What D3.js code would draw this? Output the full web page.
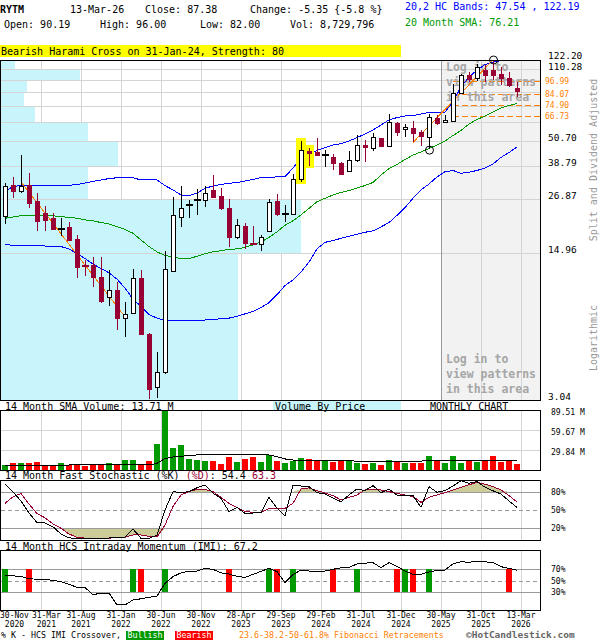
<!DOCTYPE html>
<html><head><meta charset="utf-8">
<script src="https://cdn.jsdelivr.net/npm/d3@7"></script>
<style>
body{margin:0;background:#fff;}
svg{display:block;}
text{font-family:"DejaVu Sans Mono","Liberation Mono",monospace;}
</style></head><body>
<svg id="chart" width="600" height="640"></svg>
<script>
// ---------------- DATA ----------------
const months=["Nov-20","Dec-20",
"Jan-21","Feb-21","Mar-21","Apr-21","May-21","Jun-21","Jul-21","Aug-21","Sep-21","Oct-21","Nov-21","Dec-21",
"Jan-22","Feb-22","Mar-22","Apr-22","May-22","Jun-22","Jul-22","Aug-22","Sep-22","Oct-22","Nov-22","Dec-22",
"Jan-23","Feb-23","Mar-23","Apr-23","May-23","Jun-23","Jul-23","Aug-23","Sep-23","Oct-23","Nov-23","Dec-23",
"Jan-24","Feb-24","Mar-24","Apr-24","May-24","Jun-24","Jul-24","Aug-24","Sep-24","Oct-24","Nov-24","Dec-24",
"Jan-25","Feb-25","Mar-25","Apr-25","May-25","Jun-25","Jul-25","Aug-25","Sep-25","Oct-25","Nov-25","Dec-25",
"Jan-26","Feb-26","Mar-26"];
const openP=[22.4,31.4,29.6,31.4,26.5,23.1,21.9,19.4,19.9,17.5,
13.2,13.2,11.6,9.3,10.0,7.4,7.8,11.5,6.2,3.5,
4.1,12.4,22.2,25.1,26.5,26.8,29.8,27.8,24.6,17.9,
20.2,16.7,16.6,19.0,26.4,22.9,23.0,33.7,45.5,44.9,
43.5,42.5,39.9,36.6,41.2,48.4,46.9,52.1,48.0,61.9,
57.5,58.4,55.8,53.0,65.3,62.1,63.3,85.3,103.8,100,
110,109.6,105,101,90.19];
const highP=[32.2,34.2,43.5,35.9,28.9,25.1,23.1,21.9,21.0,18.2,
13.9,14.3,14.3,12.5,11.0,8.8,12.6,12.5,6.3,5.1,
15.4,27.5,31.1,26.8,30.2,31.1,35.0,30.3,27.0,21.7,
20.7,20.1,18.3,27.0,28.5,25.2,35.3,50.7,46.8,52.4,
46.0,44.0,40.3,45.6,53.9,51.2,55.4,52.5,68.3,62.3,
61.1,62.7,57.1,68.3,67.2,67.2,93.8,104.5,107,116.6,
116,122.2,113.8,107,96];
const lowP=[20.5,27.2,28.7,24.6,19.1,19.1,19.3,18.0,17.2,11.5,
11.7,10.4,8.7,8.4,6.5,6.0,7.7,6.2,3.06,3.1,
4.05,12.2,20.0,21.9,22.6,24.8,27.3,23.9,16.0,17.4,
15.7,16.3,15.4,19.0,22.5,21.1,23.0,32.3,38.7,43.0,
38.1,37.0,35.0,36.2,40.5,40.5,45.4,47.6,48.0,53.5,
52.9,49.9,47.9,46.5,60.3,61.8,62.9,84.2,95.7,96.8,
96,98.3,93.1,91,82];
const closeP=[31.0,29.6,31.0,25.9,21.3,21.5,19.5,19.6,17.3,12.9,
13.0,11.6,8.9,10.0,7.4,7.7,11.5,6.2,3.44,4.1,
12.6,22.6,24.6,25.3,26.8,28.9,27.6,24.6,17.8,20.3,
16.7,16.4,17.8,26.0,22.9,23.1,33.5,46.1,44.3,43.5,
43.6,39.9,35.6,41.2,48.5,47.4,52.7,48.0,62.0,56.1,
59.3,55.4,53.7,65.5,61.8,63.5,85.3,103.8,99.8,113.8,
104,104,100,92.73,87.38];
const volume=[7.5,10.4,10.4,10.4,11.9,7.5,7.5,10.4,8.0,8.0,
6.0,8.0,8.0,10.4,8.0,14.9,14.9,8.0,13.4,38.8,
89.51,32.8,37.3,16.4,14.9,13.4,13.4,9.0,19.4,11.9,
16.4,19.4,11.9,22.4,13.4,10.4,14.0,17.9,16.4,14.9,
14.9,11.9,14.9,14.9,10.4,9.0,10.4,7.5,14.9,13.4,
10.4,10.4,10.4,20.9,13.4,10.4,20.9,10.4,14.9,11.9,
14.9,20.9,11.9,13.4,8.73];
const volumeSMA=[6.5,6.5,6.5,6.5,6.5,6.5,6.5,6.5,7.5,7.5,
7.5,7.5,7.5,7.5,7.5,7.5,7.5,7.5,7.5,10,
17,19.5,20.5,21.5,22.5,22.5,22.5,22.5,22.5,22.5,
22.5,22.5,22.5,22.5,20,16.5,14.9,14.4,14.4,14.4,
14.4,14.4,14.4,14.4,12.9,12.9,12.9,13.4,13.4,13.4,
13.4,13.4,13.4,13.7,13.7,13.7,13.7,13.7,13.7,13.7,
13.7,13.7,13.7,13.7,13.71];
const upperBand=[29.3,30.9,31.3,31.3,31.3,31.3,31.3,31.3,31.3,31.6,
32.1,32.7,33.2,33.7,34.0,34.0,34.0,33.2,33.2,33.2,
31.2,29.8,28.2,28.0,28.8,30.3,31.1,31.6,32.0,32.3,
32.8,33.4,34.1,34.2,34.3,34.4,37.8,42.1,44.0,45.7,
47.2,48.5,49.3,50.7,52.6,54.7,57.1,60.3,63.7,65.4,
66.5,66.9,67.9,69.1,68.7,69.2,77.7,91.2,101.6,109.6,
116.3,119.6,121.3,121.5,122.19];
const sma20=[21.9,22.2,22.5,22.6,22.65,22.6,22.5,22.3,22.1,21.9,
21.5,21.3,20.9,20.6,20.0,19.4,18.6,17.3,16.1,15.2,
14.6,14.4,14.1,14.1,14.5,14.9,15.2,15.4,15.6,15.7,
15.95,16.4,16.9,17.8,18.9,20.3,21.3,22.7,24.4,26.2,
27.2,28.2,29.0,29.6,30.4,31.25,32.3,35.0,37.6,39.3,
41.45,43.5,45.0,46.7,48.5,50.7,53.8,56.8,61.0,64.0,
66.5,69.5,72.6,74.6,76.21];
const lowerBand=[16.5,16.3,16.2,16.2,16.2,16.2,16.15,16.1,15.7,14.9,
14.15,13.3,12.7,12.1,11.3,10.25,9.1,8.4,7.7,7.4,
7.2,7.2,7.2,7.2,7.2,7.25,7.3,7.35,7.4,7.55,
7.75,7.95,8.3,8.75,9.55,10.55,11.2,12.2,13.6,15.7,
16.85,17.2,17.6,18.0,18.4,18.8,19.1,19.95,20.9,22.6,
24.6,27.2,29.8,31.75,34.3,36.3,36.8,35.7,36.1,36.8,
37.8,39.5,42.4,44.7,47.54];
const stochK=[93.4,80,65,45,28.9,28.5,22,10,3.5,2.8,
2.8,2.8,2.8,3.3,4.0,5.0,18.4,2.8,2.8,8,
50,80.6,79,80.6,87,91.7,78,69.5,47.2,54.5,
44.5,45,45.6,71.2,52.8,40.6,91.7,90,88.9,79,
76.7,70,63.9,75,85,82.3,90.6,79,84.5,75,
74.5,73.9,54.5,88.9,79.5,82.3,90,98.9,94.5,97.3,
88,82,76.7,65,54.4];
const stochD=[61.1,72,77.5,60,44,37,27,19.5,10,4.5,
3.2,2.8,2.8,3.2,3.8,4.5,8.4,8.4,6,5,
25,56,75,80.6,84,84.5,80.6,71,61.1,54,
47.2,46.4,45.6,52.8,52.8,52.8,61.1,85,87,82.3,
78.5,74,66.7,71,75,83.4,84.5,83.4,80.5,77.8,
75,72.3,62.8,71.2,75,79,83.5,87.8,92,96.1,
93,89,83.4,74,63.3];
const imi=[58.2,57.8,57,52.7,52.4,52.1,50,48.2,43.6,38.5,
38,26,28.5,28.8,8.5,8.5,17,19,21.5,23.7,
45.2,56.5,63,66.1,66.1,70.6,68.9,63,61,57,
55.3,60.4,65.5,70.6,65,46.4,60,67.8,66,65.5,
66.1,69,71.5,72.3,78,79.5,80.2,71.8,80.2,74,
66,60.5,60.5,64.5,67,67.8,78,81.9,80.8,83,
81.5,80.8,73.4,70.6,67.2];
const bullishIdx=[0,16,20,33,36,44,50,53];
const bearishIdx=[3,17,28,34,41,49,51,63];
const priceLevels=[3.04,14.96,26.87,38.79,50.70,62.62,74.54,86.45,98.37,110.28,122.20];
const priceTickLabels=["122.20","110.28","50.70","38.79","26.87","14.96","3.04"];
const vbpShares=[474,600,174,234,174,68,46,52,158,28];
const fibLevels=[96.99,84.07,74.90,66.73];
const fibStartIdx=56;
const pivots=[{i:53,v:45.9},{i:61,v:122.2}];
const trendLines=[[[2,32.5],[15,7.5]],[[51,49.9],[61,122.2]]];
const patternIdx=[37,38];
const volumeTicks=[29.84,59.67,89.51];
const stochTicks=[20,50,80];
const imiTicks=[30,50,70];
const dateTickIdx=[0,4,9,14,19,24,29,34,39,44,49,54,59,64];
const dateTickLabels=[["30-Nov","2020"],["31-Mar","2021"],["31-Aug","2021"],["31-Jan","2022"],["30-Jun","2022"],["30-Nov","2022"],["28-Apr","2023"],["29-Sep","2023"],["29-Feb","2024"],["31-Jul","2024"],["31-Dec","2024"],["30-May","2025"],["31-Oct","2025"],["13-Mar","2026"]];
const lockedFromIdx=54;

// ---------------- SCALES ----------------
const svg=d3.select('#chart');
const N=months.length;
const x=d3.scaleBand().domain(d3.range(N)).range([1,1+8*N]);
const cx=i=>x(i)+x.bandwidth()/2;
const gx=i=>x(i)+x.step();
const PR=540;
const yP=d3.scaleLog().domain([priceLevels[0],priceLevels[priceLevels.length-1]]).range([400,60]);
const yV=d3.scaleLinear().domain([0,89.51]).range([470,410]);
const yS=d3.scaleLinear().domain([0,100]).range([540,480]);
const yI=d3.scaleLinear().domain([0,100]).range([610,551]);
const CRIM='#990033',GREEN='#009900',RED='#ff0000',BLUE='#0000ff',ORANGE='#ff8000',GRID='#d4d4d4',CYAN='#c8f5fc';
const r5=v=>Math.round(v)+0.5;

function T(g,xx,yy,s,o={}){
  const t=g.append('text').attr('x',xx).attr('y',yy).text(s)
   .attr('font-size',o.size||10).attr('fill',o.fill||'#000');
  if(o.weight)t.attr('font-weight',o.weight);
  if(o.anchor)t.attr('text-anchor',o.anchor);
  return t;
}
function hline(g,x1,x2,yy,col,w=1,dash=null){
  const l=g.append('line').attr('x1',x1).attr('x2',x2).attr('y1',r5(yy)).attr('y2',r5(yy)).attr('stroke',col).attr('stroke-width',w);
  if(dash)l.attr('stroke-dasharray',dash);return l;
}
function vline(g,xx,y1,y2,col,w=1){
  return g.append('line').attr('x1',r5(xx)).attr('x2',r5(xx)).attr('y1',y1).attr('y2',y2).attr('stroke',col).attr('stroke-width',w);
}

// ---------------- HEADER ----------------
const hd=svg.append('g');
T(hd,0,13,"RYTM",{weight:'bold'});
T(hd,70,13,"13-Mar-26");
T(hd,145,13,"Close: 87.38");
T(hd,250,13,"Change: -5.35 {-5.8 %}");
T(hd,4,28,"Open: 90.19");
T(hd,100,28,"High: 96.00");
T(hd,200,28,"Low: 82.00");
T(hd,290,28,"Vol: 8,729,796");
T(hd,405,10,"20,2 HC Bands: 47.54 , 122.19",{fill:BLUE});
T(hd,405,26,"20 Month SMA: 76.21",{fill:GREEN});
hd.append('rect').attr('x',0).attr('y',45).attr('width',401).attr('height',12).attr('fill','#ffff00');
T(hd,1,54.5,"Bearish Harami Cross on 31-Jan-24, Strength: 80");

// ---------------- MAIN PRICE PANEL ----------------
const main=svg.append('g').attr('shape-rendering','crispEdges');
const lockX=gx(lockedFromIdx);
main.append('rect').attr('x',lockX).attr('y',60).attr('width',PR-lockX).attr('height',340).attr('fill','#f2f2f2');
dateTickIdx.slice(1).forEach(i=>vline(main,gx(i),60,400,gx(i)===lockX?'#999':GRID));
const vbp=d3.range(vbpShares.length).map(k=>({lo:priceLevels[k],hi:priceLevels[k+1],v:vbpShares[k]}));
const xVBP=d3.scaleLinear().domain([0,d3.max(vbpShares)]).range([0,300]);
main.selectAll('rect.vbp').data(vbp).join('rect').attr('class','vbp')
  .attr('x',1).attr('y',d=>Math.round(yP(d.hi))).attr('width',d=>xVBP(d.v))
  .attr('height',d=>Math.round(yP(d.lo))-Math.round(yP(d.hi))).attr('fill',CYAN);
priceLevels.forEach(v=>hline(main,1,PR,yP(v),GRID));
vline(main,lockX,60,400,'#999');

// fib lines
fibLevels.forEach(v=>hline(main,cx(fibStartIdx),PR+1,yP(v),ORANGE,1,"6,3"));

// locked text
const lockTxt=["Log in to","view patterns","in this area"];
[71,363].forEach(y0=>lockTxt.forEach((s,k)=>T(main,446,y0+k*15,s,{size:11.5,weight:'bold',fill:'#a6a6a6'})));

// bands & sma
const lineP=d3.line().x((d,i)=>cx(i)).y(d=>yP(d));
main.append('path').datum(upperBand).attr('d',lineP).attr('fill','none').attr('stroke',BLUE);
main.append('path').datum(lowerBand).attr('d',lineP).attr('fill','none').attr('stroke',BLUE);
main.append('path').datum(sma20).attr('d',lineP).attr('fill','none').attr('stroke',GREEN);
// trendlines
trendLines.forEach(tl=>main.append('line').attr('x1',cx(tl[0][0])).attr('y1',yP(tl[0][1])).attr('x2',cx(tl[1][0])).attr('y2',yP(tl[1][1])).attr('stroke',ORANGE));
// pattern highlight
patternIdx.forEach(i=>main.append('rect').attr('x',cx(i)-5).attr('y',yP(highP[i])-3).attr('width',10)
  .attr('height',yP(lowP[i])-yP(highP[i])+5).attr('fill','#ffff00'));
// candles
const cg=main.append('g');
d3.range(N).forEach(i=>{
  const o=openP[i],c=closeP[i],h=highP[i],l=lowP[i];
  const up=c>=o,col=up?'#000':CRIM,X=cx(i);
  vline(cg,X,yP(h),yP(l),col);
  const yt=yP(Math.max(o,c)),yb=yP(Math.min(o,c));
  if(yb-yt<1.8){
    cg.append('rect').attr('x',X-3).attr('y',Math.round((yt+yb)/2)-1).attr('width',7).attr('height',2).attr('fill',col);
  }else{
    cg.append('rect').attr('x',X-1.5).attr('y',r5(yt)).attr('width',4).attr('height',Math.round(yb)-Math.round(yt))
      .attr('fill',up?'#fff':CRIM).attr('stroke',col);
  }
});
pivots.forEach(p=>main.append('circle').attr('cx',cx(p.i)+0.5).attr('cy',yP(p.v)).attr('r',4).attr('fill','none').attr('stroke','#000').attr('shape-rendering','geometricPrecision'));
main.append('rect').attr('x',0.5).attr('y',60.5).attr('width',PR).attr('height',340).attr('fill','none').attr('stroke','#000');

// right labels
const rl=svg.append('g');
priceTickLabels.forEach((s,k)=>T(rl,548,Math.round(yP(+s))+(k===0?-1:k===1?1:0),s,{size:9.5}));
fibLevels.forEach(v=>T(rl,545,yP(v)+3,v.toFixed(2),{size:8,fill:ORANGE}));
T(rl,0,0,"Split and Dividend Adjusted",{fill:'#999',anchor:'middle'}).attr('transform','translate(597,160) rotate(-90)');
T(rl,0,0,"Logarithmic",{fill:'#999',anchor:'middle'}).attr('transform','translate(597,338) rotate(-90)');

// ---------------- VOLUME PANEL ----------------
const vg=svg.append('g').attr('shape-rendering','crispEdges');
T(vg,5,409.5,"14 Month SMA Volume: 13.71 M");
vg.append('rect').attr('x',273).attr('y',401).attr('width',128).attr('height',9).attr('fill',CYAN);
T(vg,275,409.5,"Volume By Price");
T(vg,430,409.5,"MONTHLY CHART");
dateTickIdx.slice(1).forEach(i=>vline(vg,gx(i),410,470,GRID));
volumeTicks.slice(0,2).forEach(v=>hline(vg,1,PR,yV(v),GRID));
vg.selectAll('rect.vb').data(volume).join('rect').attr('class','vb')
  .attr('x',(d,i)=>cx(i)-3).attr('width',6).attr('y',d=>yV(d)).attr('height',d=>yV(0)-yV(d))
  .attr('fill',(d,i)=>closeP[i]>=openP[i]?GREEN:RED);
vg.append('path').datum(volumeSMA).attr('d',d3.line().x((d,i)=>cx(i)).y(d=>yV(d))).attr('fill','none').attr('stroke','#000');
vg.append('rect').attr('x',0.5).attr('y',410.5).attr('width',PR).attr('height',60).attr('fill','none').attr('stroke','#000');
volumeTicks.forEach(v=>T(vg,551,Math.round(yV(v))+4.5,v.toFixed(2)+" M",{size:8}));

// ---------------- STOCHASTIC PANEL ----------------
const sg=svg.append('g').attr('shape-rendering','crispEdges');
const st=T(sg,5,479,"14 Month Fast Stochastic (%K) ");
st.append('tspan').attr('fill',CRIM).text("(%D)");
st.append('tspan').text(": 54.4  ");
st.append('tspan').attr('fill',CRIM).text("63.3");
dateTickIdx.slice(1).forEach(i=>vline(sg,gx(i),481,540,GRID));
sg.append('path').datum(stochD).attr('d',d3.area().x((d,i)=>cx(i)).y0(yS(80)).y1(d=>yS(Math.max(80,d)))).attr('fill','#cccc99');
sg.append('path').datum(stochD).attr('d',d3.area().x((d,i)=>cx(i)).y0(yS(20)).y1(d=>yS(Math.min(20,d)))).attr('fill','#cccc99');
stochTicks.forEach(v=>hline(sg,1,PR,yS(v),'#9a9a9a',v===50?1:1.5,v===50?"4,3":null));
const lineS=d3.line().x((d,i)=>cx(i)).y(d=>yS(d));
sg.append('path').datum(stochD).attr('d',lineS).attr('fill','none').attr('stroke',CRIM);
sg.append('path').datum(stochK).attr('d',lineS).attr('fill','none').attr('stroke','#000');
sg.append('rect').attr('x',0.5).attr('y',480.5).attr('width',PR).attr('height',59.5).attr('fill','none').attr('stroke','#000');
stochTicks.forEach(v=>T(sg,551,yS(v)+3,v+"%",{size:8}));

// ---------------- IMI PANEL ----------------
const ig=svg.append('g').attr('shape-rendering','crispEdges');
T(ig,5,549.5,"14 Month HCS Intraday Momentum (IMI): 67.2");
dateTickIdx.slice(1).forEach(i=>vline(ig,gx(i),551,610,GRID));
imiTicks.forEach(v=>hline(ig,1,PR,yI(v),'#9a9a9a',v===50?1:1.5,v===50?"4,3":null));
const bars=bullishIdx.map(i=>({i,c:GREEN})).concat(bearishIdx.map(i=>({i,c:RED})));
ig.selectAll('rect.xb').data(bars).join('rect').attr('class','xb')
  .attr('x',d=>cx(d.i)-3).attr('width',6).attr('y',yI(70)).attr('height',yI(30)-yI(70)).attr('fill',d=>d.c);
ig.append('path').datum(imi).attr('d',d3.line().x((d,i)=>cx(i)).y(d=>yI(d))).attr('fill','none').attr('stroke','#000');
ig.append('rect').attr('x',0.5).attr('y',550.5).attr('width',PR).attr('height',59.5).attr('fill','none').attr('stroke','#000');
imiTicks.forEach(v=>T(ig,551,yI(v)+3,v+"%",{size:8}));

// ---------------- DATE AXIS ----------------
const dg=svg.append('g');
const DFS=8;
let prevRight=-Infinity;
dateTickIdx.forEach((idx,k)=>{
  const w=Math.max(...dateTickLabels[k].map(s=>s.length))*DFS*0.602;
  let xc=idx===0?cx(idx):gx(idx);
  xc=Math.max(xc,w/2,prevRight+w/2+3);
  prevRight=xc+w/2;
  T(dg,xc,617.6,dateTickLabels[k][0],{size:DFS,anchor:'middle'});
  T(dg,xc,627,dateTickLabels[k][1],{size:DFS,anchor:'middle'});
});

// ---------------- LEGEND ----------------
const lg=svg.append('g');
T(lg,1,638,"% K - HCS IMI Crossover,",{size:8.3});
lg.append('rect').attr('x',126).attr('y',631).attr('width',38).attr('height',9).attr('fill',GREEN);
T(lg,145,638,"Bullish",{size:8.3,fill:'#fff',anchor:'middle'});
lg.append('rect').attr('x',175).attr('y',631).attr('width',38).attr('height',9).attr('fill',RED);
T(lg,194,638,"Bearish",{size:8.3,fill:'#fff',anchor:'middle'});
T(lg,239,638,"23.6-38.2-50-61.8% Fibonacci Retracements",{size:8.3,fill:ORANGE});
T(lg,466,637.7,"\u00a9HotCandlestick.com",{size:9.5,fill:'#666',weight:'bold'});
</script>
</body></html>
